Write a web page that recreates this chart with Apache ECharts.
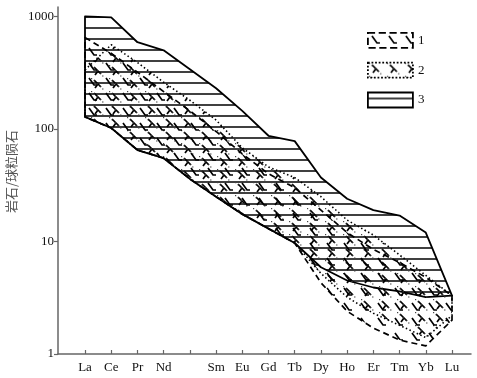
<!DOCTYPE html>
<html><head><meta charset="utf-8">
<script src="https://cdn.jsdelivr.net/npm/echarts@6/dist/echarts.min.js"></script>
<style>html,body{margin:0;padding:0;background:#fff}#c{width:477px;height:378px}</style>
</head><body><div id="c"></div>
<script>
// REE elements (Pm position kept, unlabeled)
const elements = ['La','Ce','Pr','Nd','Pm','Sm','Eu','Gd','Tb','Dy','Ho','Er','Tm','Yb','Lu'];
const tickLabels = ['La','Ce','Pr','Nd','','Sm','Eu','Gd','Tb','Dy','Ho','Er','Tm','Yb','Lu'];
const yTickValues = [1, 10, 100, 1000];
const legendNames = ['1', '2', '3'];

// Field 1 (dashed outline)
const upper1 = [650, 470, 320, 215, 145, 95, 60, 40, 30, 19, 12, 8.5, 6.5, 4.8, 3.3];
const lower1 = [128, 102, 65, 55, 36, 25, 17.5, 13, 9.7, 4.3, 2.4, 1.7, 1.33, 1.18, 2.0];
// Field 2 (dotted outline)
const upper2 = [335, 560, 390, 260, 180, 120, 68, 46, 37, 25, 15.5, 11.4, 7.6, 5.0, 3.3];
const lower2 = [128, 102, 65, 55, 36, 25, 17.5, 13, 9.7, 5.2, 3.2, 2.3, 1.8, 1.4, 2.2];
// Field 3 (solid outline, horizontal lines)
const upper3 = [1000, 980, 590, 500, 340, 230, 145, 87, 78, 37, 24, 19, 17, 12, 3.3];
const lower3 = [128, 102, 65, 55, 36, 25, 17.5, 13, 9.7, 5.9, 4.5, 3.9, 3.6, 3.2, 3.3];

function makePattern(kind) {
  const c = document.createElement('canvas');
  let ctx;
  if (kind === 3) {
    c.width = 10; c.height = 11;
    ctx = c.getContext('2d');
    ctx.strokeStyle = '#000'; ctx.lineWidth = 1.5;
    ctx.beginPath(); ctx.moveTo(0, 6); ctx.lineTo(10, 6); ctx.stroke();
  } else if (kind === 2) {
    c.width = 18; c.height = 13;
    ctx = c.getContext('2d');
    ctx.strokeStyle = '#000'; ctx.lineWidth = 1.7;
    ctx.beginPath(); ctx.moveTo(4, 2); ctx.lineTo(11, 9); ctx.stroke();
    ctx.beginPath(); ctx.moveTo(8, 6); ctx.lineTo(5, 10); ctx.stroke();
    ctx.fillStyle = '#444';
    for (let t = 0; t < 1; t += 0.2) {
      ctx.fillRect(14 * t + 1, 13 * t, 1.2, 1.2);
    }
  } else {
    c.width = 17; c.height = 15;
    ctx = c.getContext('2d');
    ctx.strokeStyle = '#000'; ctx.lineWidth = 1.7;
    ctx.beginPath(); ctx.moveTo(4, 3); ctx.lineTo(9, 10); ctx.lineTo(12, 10); ctx.stroke();
  }
  return { image: c, repeat: 'repeat' };
}

const pat1 = makePattern(1), pat2 = makePattern(2), pat3 = makePattern(3);

function polySeries(name, upper, lower, pattern, dash, width, z) {
  const pts = [];
  upper.forEach((v, i) => pts.push([i, Math.log10(v)]));
  for (let i = lower.length - 1; i >= 0; i--) pts.push([i, Math.log10(lower[i])]);
  return {
    type: 'custom', name: name, data: pts, encode: { x: 0, y: 1 }, z: z, silent: true,
    itemStyle: { color: pattern, borderColor: '#000' },
    renderItem: function (params, api) {
      if (params.dataIndex !== 0) return null;
      const points = pts.map(p => api.coord(p));
      return { type: 'polygon', shape: { points: points },
        style: { fill: pattern, stroke: '#000', lineWidth: width, lineDash: dash, lineJoin: 'round' } };
    }
  };
}

const chart = echarts.init(document.getElementById('c'), null, { renderer: 'canvas' });
const serif = 'Liberation Serif';
chart.setOption({
  animation: false,
  backgroundColor: '#fff',
  grid: { left: 58, right: 6, top: 7, bottom: 24, containLabel: false, outerBoundsMode: 'none' },
  legend: {
    orient: 'vertical', left: 362, top: 27, itemWidth: 45, itemHeight: 15, itemGap: 13,
    textStyle: { fontFamily: serif, fontSize: 13, color: '#111' },
    data: [
      { name: legendNames[0], icon: 'rect', itemStyle: { color: pat1, borderColor: '#000', borderWidth: 1.8, borderType: 'dashed' } },
      { name: legendNames[1], icon: 'rect', itemStyle: { color: pat2, borderColor: '#000', borderWidth: 1.8, borderType: 'dotted' } },
      { name: legendNames[2], icon: 'rect', itemStyle: { color: pat3, borderColor: '#000', borderWidth: 1.8 } }
    ]
  },
  xAxis: {
    type: 'value', min: -1.03, max: 14.725,
    splitLine: { show: false },
    axisLine: { onZero: false, lineStyle: { color: '#666', width: 1.5 } },
    axisTick: { inside: true, length: 4, lineStyle: { color: '#666', width: 1.2 },
      customValues: elements.map((e, i) => i) },
    axisLabel: { margin: 7, fontFamily: serif, fontSize: 13, color: '#111',
      customValues: elements.map((e, i) => i),
      formatter: v => tickLabels[Math.round(v)] || '' }
  },
  yAxis: {
    type: 'value', min: 0, max: 3.084,
    name: '岩石/球粒陨石', nameLocation: 'middle', nameGap: 39, nameRotate: 90,
    nameTextStyle: { fontFamily: 'Noto Sans CJK SC', fontSize: 13, color: '#555', padding: [0, 0, 0, 18] },
    splitLine: { show: false },
    axisLine: { show: true, onZero: false, lineStyle: { color: '#666', width: 1.5 } },
    axisTick: { show: true, length: 4, lineStyle: { color: '#666', width: 1.2 },
      customValues: yTickValues.map(v => Math.log10(v)) },
    axisLabel: { margin: 4, fontFamily: serif, fontSize: 13, color: '#111',
      customValues: yTickValues.map(v => Math.log10(v)),
      formatter: v => String(Math.round(Math.pow(10, v))) }
  },
  series: [
    polySeries(legendNames[2], upper3, lower3, pat3, null, 1.8, 2),
    polySeries(legendNames[1], upper2, lower2, pat2, [1.5, 2.5], 1.6, 3),
    polySeries(legendNames[0], upper1, lower1, pat1, [6, 4], 1.7, 4)
  ]
});
</script></body></html>
